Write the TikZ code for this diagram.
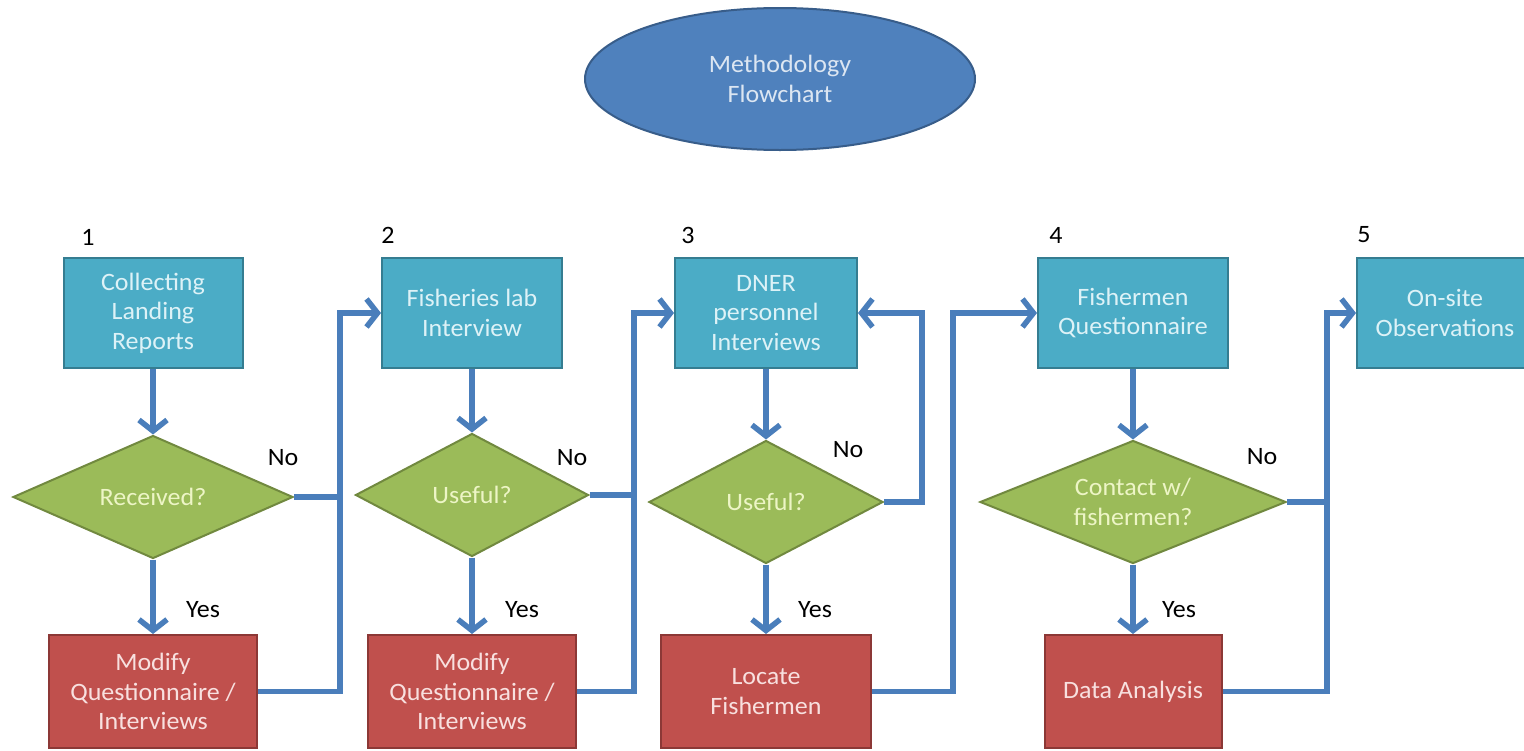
\documentclass[tikz,border=0pt]{standalone}
\usepackage{fontspec}
\setmainfont{Carlito}[FakeStretch=1.04]
\usetikzlibrary{shapes.geometric,arrows.meta}
\definecolor{aquaF}{HTML}{4BACC6}
\definecolor{aquaD}{HTML}{357D91}
\definecolor{aquaT}{HTML}{DDF2F7}
\definecolor{greenF}{HTML}{9BBB59}
\definecolor{greenD}{HTML}{71893F}
\definecolor{greenT}{HTML}{EDF5C6}
\definecolor{redF}{HTML}{C0504D}
\definecolor{redD}{HTML}{8C3836}
\definecolor{redT}{HTML}{F8E0DF}
\definecolor{blueF}{HTML}{4F81BD}
\definecolor{blueD}{HTML}{385D8A}
\definecolor{blueT}{HTML}{DCE6F2}
\definecolor{lineC}{HTML}{4A7EBB}
\begin{document}
\begin{tikzpicture}[x=1pt,y=-1pt,
  every node/.style={font=\fontsize{25}{29.5}\selectfont},
  box/.style={rectangle, line width=2pt, align=center, inner sep=0pt},
  bluebox/.style={box, fill=aquaF, draw=aquaD, text=aquaT, minimum height=110pt},
  redbox/.style={box, fill=redF, draw=redD, text=redT, minimum height=113pt},
  decision/.style={diamond, aspect=2.5, fill=greenF, draw=greenD, text=greenT,
    line width=2pt, inner sep=0pt, align=center, minimum height=123pt},
  lbl/.style={text=black, inner sep=0pt},
  flow/.style={draw=lineC, line width=5.5pt},
  arr/.style={flow, -{Straight Barb[length=11pt,width=28pt]}}
]
\useasboundingbox (0,0) rectangle (1524,750);
\fill[white] (0,0) rectangle (1524,750);

% title
\node[ellipse, fill=blueF, draw=blueD, line width=2pt, text=blueT, align=center,
  minimum width=390pt, minimum height=142pt, inner sep=0pt] (title) at (780,79) {Methodology\\Flowchart};

% step numbers
\node[lbl] (s1) at (88,237) {1};
\node[lbl] (s2) at (388,235) {2};
\node[lbl] (s3) at (688,235) {3};
\node[lbl] (s4) at (1056,235) {4};
\node[lbl] (s5) at (1364,235) {5};

% top boxes
\node[bluebox, minimum width=179pt] (b1) at (153,313) {Collecting\\Landing\\Reports};
\node[bluebox, minimum width=180pt] (b2) at (472,313) {Fisheries lab\\Interview};
\node[bluebox, minimum width=182pt] (b3) at (766,313) {DNER\\personnel\\Interviews};
\node[bluebox, minimum width=190pt] (b4) at (1133,313) {Fishermen\\Questionnaire};
\node[bluebox, minimum width=176pt] (b5) at (1445,313) {On-site\\Observations};

% decisions
\node[decision, minimum width=280pt] (d1) at (153,497) {Received?};
\node[decision, minimum width=233pt] (d2) at (472,495) {Useful?};
\node[decision, minimum width=234pt] (d3) at (766,502) {Useful?};
\node[decision, minimum width=306pt] (d4) at (1133,502) {Contact w/\\fishermen?};

% bottom boxes
\node[redbox, minimum width=208pt] (r1) at (153,691.5) {Modify\\Questionnaire /\\Interviews};
\node[redbox, minimum width=208pt] (r2) at (472,691.5) {Modify\\Questionnaire /\\Interviews};
\node[redbox, minimum width=210pt] (r3) at (766,691.5) {Locate\\Fishermen};
\node[redbox, minimum width=177pt] (r4) at (1133,691.5) {Data Analysis};

% labels
\node[lbl] (no1) at (283,458) {No};
\node[lbl] (no2) at (572,458) {No};
\node[lbl] (no3) at (848,450) {No};
\node[lbl] (no4) at (1262,457) {No};
\node[lbl] (y1) at (203,610) {Yes};
\node[lbl] (y2) at (522,610) {Yes};
\node[lbl] (y3) at (815,610) {Yes};
\node[lbl] (y4) at (1179,610) {Yes};

% junction columns
\coordinate (j1) at (340,0);
\coordinate (j2) at (634,0);
\coordinate (j3) at (953,0);
\coordinate (j4) at (1327,0);
\coordinate (k3) at (922,0);

% vertical flows
\foreach \i in {1,2,3,4}{
  \draw[arr] (b\i.south) -- (d\i.north);
  \draw[arr] (d\i.south) -- (r\i.north);
}

% column 1 -> 2
\draw[flow] (d1.east) -- (d1.east -| j1);
\draw[arr] (r1.east) -- (r1.east -| j1) |- (b2.west);
% column 2 -> 3
\draw[flow] (d2.east) -- (d2.east -| j2);
\draw[arr] (r2.east) -- (r2.east -| j2) |- (b3.west);
% column 3 loop and -> 4
\draw[arr] (d3.east) -- (d3.east -| k3) |- (b3.east);
\draw[arr] (r3.east) -- (r3.east -| j3) |- (b4.west);
% column 4 -> 5
\draw[flow] (d4.east) -- (d4.east -| j4);
\draw[arr] (r4.east) -- (r4.east -| j4) |- (b5.west);
\end{tikzpicture}
\end{document}
